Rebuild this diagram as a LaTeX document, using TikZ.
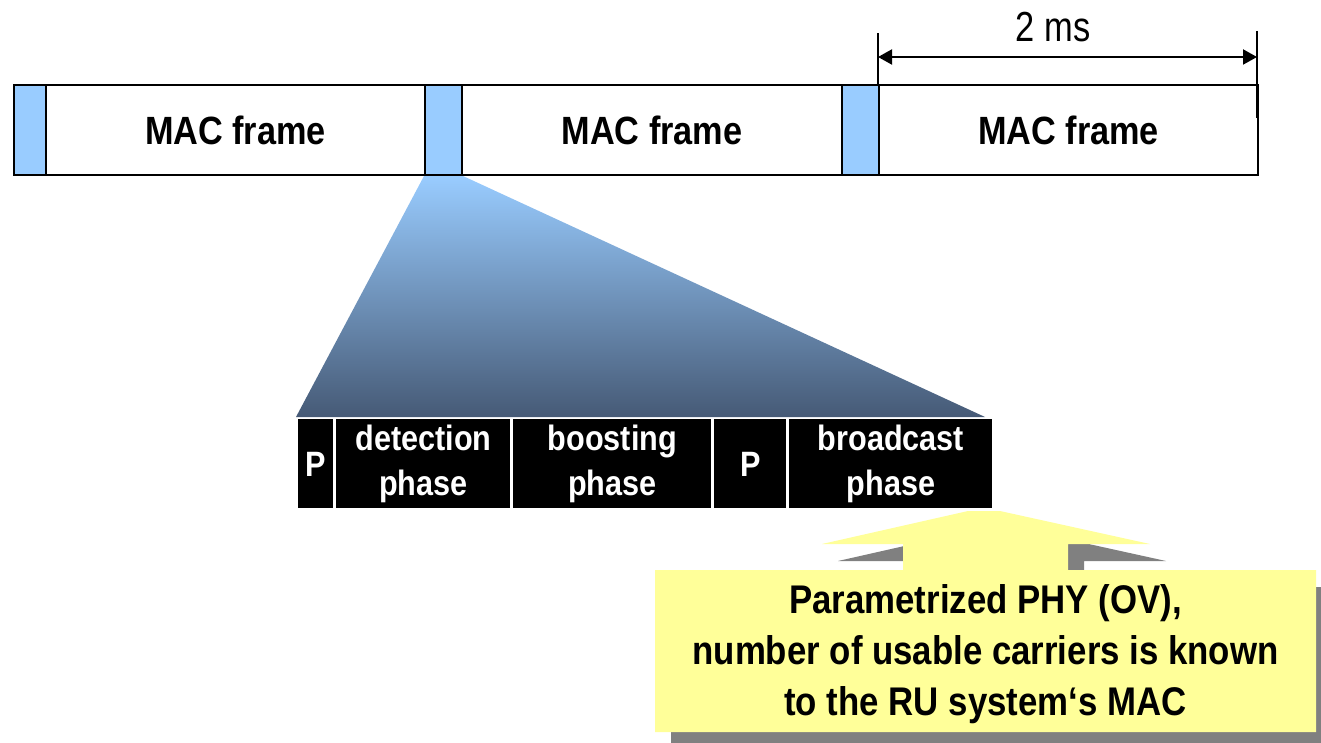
\documentclass[tikz,border=0pt]{standalone}
\usepackage{fontspec}
\setmainfont{Liberation Sans}[FakeStretch=0.87]
\newfontfamily\narrowfont{Liberation Sans}[FakeStretch=0.82]
\usetikzlibrary{arrows.meta}
\definecolor{pblue}{HTML}{99CCFF}
\definecolor{slate}{RGB}{70,90,118}
\definecolor{note}{HTML}{FFFF99}
\definecolor{shadowgray}{HTML}{808080}
\pgfdeclarelayer{bg}
\pgfsetlayers{bg,main}
\begin{document}
\begin{tikzpicture}[x=0.5pt,y=-0.5pt,
  box/.style={draw=black,line width=1pt,minimum height=45pt,inner sep=0pt,anchor=north west},
  frame/.style={box,fill=white,font=\fontsize{19.7}{23}\selectfont\bfseries},
  gapbox/.style={box,fill=pblue},
  seg/.style={fill=black,text=white,inner sep=0pt,anchor=north west,minimum height=44.5pt,
     align=center,font=\fontsize{17.6}{22.5}\selectfont\bfseries},
  dim/.style={line width=1pt},
  note text/.style={align=center,font=\fontsize{20}{25.5}\selectfont\bfseries}]
\useasboundingbox (0,0) rectangle (1321,743);
\clip (0,0) rectangle (1321,743);

% top bar
\node[frame,minimum width=189.5pt] (f1) at (45,84) {MAC frame};
\node[frame,minimum width=190pt] (f2) at (461,84) {MAC frame};
\node[frame,minimum width=189.5pt] (f3) at (878,84) {MAC frame};
\node[gapbox,minimum width=16pt] (g1) at (13,84) {};
\node[gapbox,minimum width=18.5pt] (g2) at (424,84) {};
\node[gapbox,minimum width=18.5pt] (g3) at (841,84) {};

% black bar
\node[seg,minimum width=17.5pt] (p1) at (298,419) {P};
\node[seg,minimum width=87pt] (det) at (336,419) {detection\\phase};
\node[seg,minimum width=99pt] (boost) at (513,419) {boosting\\phase};
\node[seg,minimum width=36pt] (p2) at (714,419) {P};
\node[seg,minimum width=101.5pt] (bcast) at (789,419) {broadcast\\phase};

% zoom wedge
\coordinate (wl) at (296,417);
\coordinate (wr) at (985,417);
\begin{pgfonlayer}{bg}
\shade[top color=pblue,bottom color=slate] (g2.south west) -- (g2.south east) -- (wr) -- (wl) -- cycle;
\end{pgfonlayer}

% 2 ms dimension
\coordinate (tl) at (878,33);
\coordinate (tr) at (1257,31);
\coordinate (trb) at (1257,118);
\coordinate (dl) at (878,57);
\coordinate (dr) at (1257,57);
\draw[dim] (f3.north west) -- (tl);
\draw[dim] (tr) -- (trb);
\draw[dim,{Triangle[length=7pt,width=7.5pt]}-{Triangle[length=7pt,width=7.5pt]}] (dl) -- (dr);
\node[font=\narrowfont\fontsize{21}{24}\selectfont] (ms) at (1053,27) {2 ms};

% callout with shadow
\fill[shadowgray,shift={(16,17)}] (655,570) -- (903,570) -- (903,544) -- (822,544) -- (968,511) -- (1000,511)
   -- (1150,544) -- (1068,544) -- (1068,570) -- (1316,570) -- (1316,732) -- (655,732) -- cycle;
\fill[note] (655,570) -- (903,570) -- (903,544) -- (822,544) -- (968,511) -- (1000,511)
   -- (1150,544) -- (1068,544) -- (1068,570) -- (1316,570) -- (1316,732) -- (655,732) -- cycle;
\node[note text] (note) at (985.5,654) {Parametrized PHY (OV),\\number of usable carriers is known\\to the RU system‘s MAC};
\end{tikzpicture}
\end{document}
